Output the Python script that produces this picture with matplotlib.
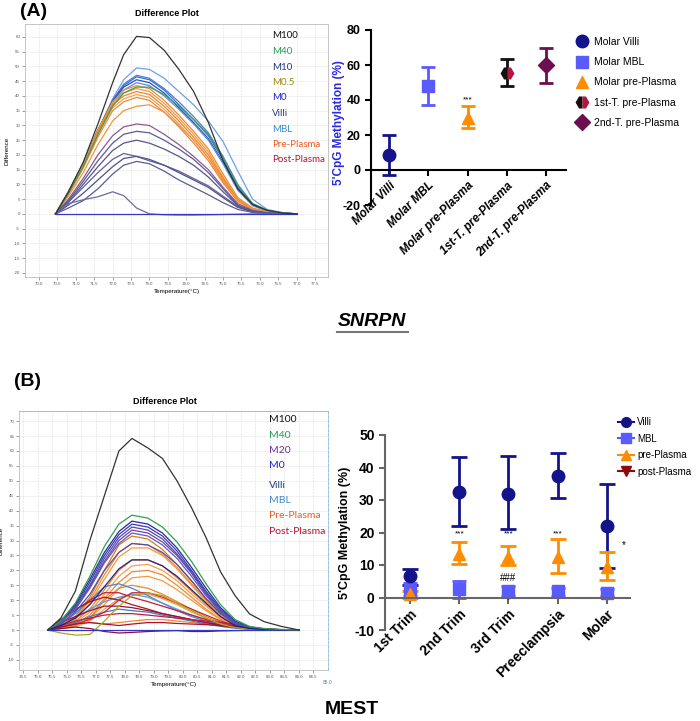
import numpy as np
import matplotlib
matplotlib.use('Agg')
import matplotlib.pyplot as plt
from matplotlib.lines import Line2D

plt.rcParams['font.family'] = ['Liberation Sans', 'DejaVu Sans']
plt.rcParams['axes.unicode_minus'] = False

# ---------------- data: panel A (SNRPN) ----------------
tempA = [70.45, 70.8, 71.2, 71.6, 72.0, 72.3, 72.65, 73.0, 73.4, 73.8, 74.2, 74.6,
         75.0, 75.4, 75.8, 76.2, 76.6, 77.0]
curvesA = [
    ('#6f9fe6', [0, 7, 16.5, 28, 39, 45.5, 49.5, 49, 46, 41.5, 37, 31.5, 24.5, 14.5, 5, 1.5, 0.5, 0]),
    ('#4d7fdc', [0, 7, 16.5, 28, 38.5, 44, 47, 46, 42.5, 38, 33, 27.5, 19.5, 10, 3.5, 1.2, 0.4, 0]),
    ('#3a6ad0', [0, 7.5, 17, 28.5, 38.5, 43.5, 46.5, 45.5, 42, 37, 32, 26.5, 18.5, 9, 3, 1, 0.3, 0]),
    ('#2b4fb8', [0, 7.5, 17, 28.5, 38, 43, 45.5, 44.5, 41, 36, 31, 25.5, 17.5, 8.5, 3, 1, 0.3, 0]),
    ('#5b8fe0', [0, 7, 16.5, 28, 37.5, 42, 44.5, 43.5, 40, 35.5, 30.5, 25, 17, 8, 2.8, 0.9, 0.3, 0]),
    ('#f08a30', [0, 7.5, 17, 28.5, 38, 42, 43.5, 42.5, 38.5, 33.5, 28, 22, 13.5, 5.5, 2, 0.7, 0.2, 0]),
    ('#f29a40', [0, 7, 16.5, 28, 37.5, 41, 42.5, 41.5, 37.5, 32.5, 27, 21, 12.5, 5, 1.8, 0.6, 0.2, 0]),
    ('#ee8428', [0, 7, 16.5, 27.5, 37, 40, 41.5, 40.5, 36.5, 31.5, 26, 20, 12, 4.8, 1.7, 0.6, 0.2, 0]),
    ('#f3a050', [0, 7, 16, 27, 36, 39, 40.5, 39.5, 35.5, 30.5, 25, 19, 11, 4.5, 1.6, 0.5, 0.2, 0]),
    ('#ec8a3a', [0, 6.5, 15.5, 26, 35, 38, 39.5, 38.5, 34.5, 29.5, 24, 18, 10.5, 4.2, 1.5, 0.5, 0.2, 0]),
    ('#f09440', [0, 6, 14, 23.5, 31.5, 35, 36.5, 37, 34.5, 30, 25, 19, 11.5, 4.5, 1.6, 0.5, 0.2, 0]),
    ('#3aa060', [0, 7, 16, 27, 36.5, 41, 43, 43, 40.5, 36.5, 32, 27, 19, 9.5, 3.5, 1.2, 0.4, 0]),
    ('#8a5a90', [0, 5, 12, 20, 26.5, 29.5, 30.5, 30, 27, 23.5, 19.5, 15, 9, 3.5, 1.2, 0.4, 0.1, 0]),
    ('#5a5a96', [0, 4.5, 11, 18, 24, 27, 28, 27.5, 25, 22, 18.5, 14, 8.5, 3, 1, 0.3, 0, 0]),
    ('#55558f', [0, 4, 10, 16, 21.5, 24, 25, 24, 22, 19.5, 16.5, 12.5, 7.5, 2.8, 0.9, 0.3, 0, 0]),
    ('#60609a', [0, 4, 9, 14, 18.5, 20.5, 19.5, 18, 16.5, 14.5, 12, 9.5, 6, 2.5, 0.8, 0.2, 0, 0]),
    ('#50508a', [0, 3, 7, 11.5, 16, 18.8, 19.5, 18.5, 16.5, 14, 11.5, 9, 5.5, 2.2, 0.7, 0.2, 0, 0]),
    ('#5c5c94', [0, 2, 4.5, 8.5, 13.5, 16.5, 17.8, 17, 14.5, 11.5, 9, 6.5, 3.8, 1.5, 0.5, 0.1, 0, 0]),
    ('#6a6aa0', [0, 3.5, 4.8, 5.8, 7.5, 6.2, 2, 0, -0.3, -0.4, -0.4, -0.3, -0.2, -0.1, 0, 0, 0, 0]),
    ('#3535c8', [0, 0, 0, 0, 0, 0, 0, 0, 0, 0, 0, 0, 0, 0, 0, 0, 0, 0]),
    ('#333333', [0, 7.5, 17.5, 30.5, 44.5, 54, 60.2, 59.8, 55.5, 49, 41.5, 31, 18, 8.5, 3.2, 1.2, 0.3, 0]),
]
legendA = ['M100', 'M40', 'M10', 'M0.5', 'M0', 'Villi', 'MBL', 'Pre-Plasma', 'Post-Plasma']
legendA_col = ['#111111', '#1fa050', '#1f3a78', '#9a8a10', '#2020e0', '#2a3a8a', '#3a8ad0',
               '#f05a20', '#c0102a']

catsA = ['Molar Villi', 'Molar MBL', 'Molar pre-Plasma', '1st-T. pre-Plasma', '2nd-T. pre-Plasma']
meanA = [8.5, 48, 30, 55.5, 60]
lowA = [-3, 37, 24, 48, 50]
highA = [20, 59, 36.5, 63.5, 70]

# ---------------- data: panel B (MEST) ----------------
tempB = [75.35, 75.8, 76.3, 76.8, 77.3, 77.8, 78.25, 78.8, 79.3, 79.8, 80.3, 80.8,
         81.3, 81.8, 82.3, 82.8, 83.4, 84.0]
curvesB = [
    ('#e07a20', [0, 1.5, 4.5, 11, 20, 28.5, 31.5, 30.5, 27, 22, 16.5, 10.5, 5.5, 2, 0.7, 0.2, 0, 0]),
    ('#f08a30', [0, 1.5, 4, 10, 18.5, 26, 29, 28.5, 25.5, 21, 15.5, 10, 5, 2, 0.6, 0.2, 0, 0]),
    ('#f29a40', [0, 1, 3.5, 9, 17, 24.5, 27.5, 27.5, 25, 20.5, 15, 9.5, 5, 1.8, 0.6, 0.2, 0, 0]),
    ('#ee8428', [0, 1, 3, 7, 13.5, 20, 23.5, 23.5, 21.5, 17.5, 13, 8.5, 4.5, 1.6, 0.5, 0.2, 0, 0]),
    ('#f3a050', [0, 1, 2.5, 6, 12, 18, 21.5, 22, 20, 16.5, 12, 8, 4, 1.5, 0.5, 0.2, 0, 0]),
    ('#f08a30', [0, 0.8, 2, 5, 10.5, 16, 19.5, 20, 18.5, 15, 11, 7, 3.5, 1.3, 0.5, 0.2, 0, 0]),
    ('#f29a40', [0, 0.5, 1.5, 4, 8.5, 14, 17.5, 18, 16.5, 13.5, 10, 6.5, 3.5, 1.2, 0.4, 0.1, 0, 0]),
    ('#ee8428', [0, 0.5, 1.5, 4, 10, 14, 15, 14, 12, 9.5, 7, 4.5, 2.5, 1, 0.3, 0.1, 0, 0]),
    ('#f3a050', [0, 0.5, 1, 3, 7, 10.5, 12, 12, 10.5, 8.5, 6, 4, 2, 0.8, 0.3, 0.1, 0, 0]),
    ('#f08a30', [0, 1.5, 2.5, 2.5, 2, 2.5, 3, 3.5, 3.5, 3, 2.5, 2, 1.5, 1, 0.5, 0.2, 0, 0]),
    ('#4a86d8', [0, 2, 5.5, 10, 14.5, 15.5, 14, 11.5, 9, 6.5, 4.5, 3, 1.8, 1, 0.5, 0.2, 0, 0]),
    ('#5a96e0', [0, 1.5, 4, 7, 9.5, 11, 12, 11, 9, 7, 5, 3.5, 2, 1, 0.5, 0.2, 0, 0]),
    ('#3a7ad0', [0, 1, 2.5, 4.5, 6, 7, 6.5, 6, 5, 4, 3, 2, 1.2, 0.6, 0.3, 0.1, 0, 0]),
    ('#c41e3a', [0, 3, 6.5, 10, 12.5, 12.5, 11, 9.5, 8, 6.5, 5, 3.5, 2.5, 1.5, 0.8, 0.3, 0.1, 0]),
    ('#b0102a', [0, 3.5, 7, 9.5, 11, 10, 8.5, 7, 5.5, 4.5, 3.5, 2.5, 1.5, 1, 0.5, 0.2, 0, 0]),
    ('#c8283a', [0, 1, 2, 3.5, 6, 10, 12.5, 12.5, 11, 9, 7, 5, 3, 1.5, 0.6, 0.2, 0, 0]),
    ('#a01030', [0, 2.5, 4.5, 6.5, 8, 8, 7.5, 6.5, 5.5, 4.5, 3.5, 2.5, 1.8, 1.2, 0.6, 0.2, 0, 0]),
    ('#c41e3a', [0, 1.5, 3, 4, 5, 5.5, 5.5, 5, 4.5, 4, 3.5, 3, 2.5, 1.8, 1, 0.4, 0.1, 0]),
    ('#b0102a', [0, 1, 2, 2.5, 2, 1.5, 2, 2.5, 2.5, 2.2, 2, 1.8, 1.5, 1, 0.5, 0.2, 0, 0]),
    ('#901030', [0, 0.5, 1, 0.5, -0.5, -1, -0.8, -0.5, -0.3, -0.2, -0.5, -0.5, -0.3, -0.2, -0.1, 0, 0, 0]),
    ('#a8a820', [0, -1, -1.7, -1.5, 3, 8, 11.5, 12.5, 11.5, 9, 6.5, 4, 2, 0.8, 0.3, 0.1, 0, 0]),
    ('#3535c8', [0, 0, 0, 0, 0, 0, 0, 0, 0, 0, 0, 0, 0, 0, 0, 0, 0, 0]),
    ('#7b3fa0', [0, 2.5, 7, 14.5, 23, 30, 33.5, 32.5, 29.5, 25, 19, 12, 6, 2, 0.7, 0.2, 0, 0]),
    ('#2a2a9a', [0, 3, 8.5, 17, 26, 33, 36.5, 35.5, 32.5, 27.5, 21, 14, 7.5, 3, 1, 0.4, 0.1, 0]),
    ('#3b3bb0', [0, 3, 8, 16, 25, 32, 35.5, 34.5, 31.5, 26.5, 20, 13, 7, 2.5, 0.8, 0.3, 0.1, 0]),
    ('#4a4ab8', [0, 2.5, 7.5, 15, 24, 31, 34.5, 33.5, 30.5, 25.5, 19.5, 12.5, 6.5, 2.5, 0.8, 0.3, 0, 0]),
    ('#5a5ac0', [0, 2.5, 7, 14, 22.5, 29, 32.5, 31.5, 28.5, 24, 18, 11.5, 6, 2, 0.7, 0.2, 0, 0]),
    ('#5050a0', [0, 2, 6, 12, 20, 26, 29, 28.5, 26, 22, 16.5, 10.5, 5.5, 2, 0.6, 0.2, 0, 0]),
    ('#23237a', [0, 1.5, 4, 8.5, 14.5, 20.5, 23.5, 23.5, 21.5, 18, 13.5, 9, 4.5, 1.5, 0.5, 0.2, 0, 0]),
    ('#30a050', [0, 3, 9, 18, 28, 35.5, 38.5, 37.5, 34.5, 29.5, 23, 15.5, 8.5, 3.5, 1.2, 0.5, 0.2, 0]),
    ('#333333', [0, 4, 13, 30, 45, 60, 64.2, 61, 57.5, 50, 41, 31, 19.5, 11.5, 5.4, 2.8, 1.2, 0]),
]
legendB = ['M100', 'M40', 'M20', 'M0', 'Villi', 'MBL', 'Pre-Plasma', 'Post-Plasma']
legendB_col = ['#111111', '#1fa050', '#7030a0', '#2020e0', '#1f3a8a', '#3a8ad0', '#f05a20', '#c0102a']

catsB = ['1st Trim', '2nd Trim', '3rd Trim', 'Preeclampsia', 'Molar']
villi_mean = [6.5, 32.5, 32.0, 37.5, 22.0]
villi_lo = [4.0, 22.0, 21.0, 30.5, 9.0]
villi_hi = [8.8, 43.2, 43.5, 44.5, 35.0]
mbl_mean = [2.5, 2.5, 2.0, 2.0, 1.5]
mbl_lo = [0.5, 0.0, 0.5, 0.5, 0.5]
mbl_hi = [4.5, 5.0, 3.5, 3.0, 2.5]
pre_mean = [1.0, 13.5, 12.5, 12.5, 9.5]
pre_lo = [0.0, 10.3, 10.0, 7.6, 5.5]
pre_hi = [2.0, 17.2, 15.7, 18.0, 14.0]
post_cat = [2]
post_mean = [1.5]

W, H = 700, 721
fig = plt.figure(figsize=(W / 100, H / 100), dpi=100)


def box(x0, y0, x1, y1):
    return [x0 / W, 1 - y1 / H, (x1 - x0) / W, (y1 - y0) / H]


def ftext(x, y, s, **kw):
    fig.text(x / W, 1 - y / H, s, **kw)


def melt_axes(ax, curves, temps, xlim, ylim, xticks, yticks):
    for col, vals in curves:
        ax.plot(temps, vals, color=col, lw=0.9)
    ax.set_xlim(*xlim)
    ax.set_ylim(*ylim)
    ax.set_xticks(xticks)
    ax.set_yticks(yticks)
    ax.set_xticklabels(['%.1f' % t for t in xticks])
    ax.set_yticklabels(['%d' % v for v in yticks])
    ax.tick_params(labelsize=3.2, colors='#555555', length=2, width=0.4, pad=1.5)
    ax.grid(True, color='#dddddd', ls='--', lw=0.4)
    for s in ax.spines.values():
        s.set_color('#bbbbbb')
        s.set_linewidth(0.6)
    ax.set_xlabel('Temperature(°C)', fontsize=4.5, labelpad=2)
    ax.set_ylabel('Difference', fontsize=4.5, labelpad=2)


def dot_axes(ax):
    # x axis drawn through zero; must be set before the tick labels
    ax.spines['bottom'].set_position(('data', 0))
    ax.spines['top'].set_visible(False)
    ax.spines['right'].set_visible(False)
    for s in ('left', 'bottom'):
        ax.spines[s].set_linewidth(1.5)


# ---------------- panel A: difference plot ----------------
axA = fig.add_axes(box(25, 24, 328, 277))
melt_axes(axA, curvesA, tempA, (69.62, 77.85), (-21.4, 64.4),
          np.arange(70.0, 77.51, 0.5), np.arange(-20, 61, 5))
axA.yaxis.set_label_coords(-0.05, 0.5)
for i, (lab, col) in enumerate(zip(legendA, legendA_col)):
    ftext(272, 36 + i * 15.5, lab, color=col, fontsize=7, family='Lato', va='center')

# ---------------- panel A: methylation ----------------
axA2 = fig.add_axes(box(371, 30, 566, 205))
dot_axes(axA2)
xA = np.arange(len(catsA))
colsA = ['#14148a', '#5a5aff', '#ff8c00', '#111111', '#6b0f50']
for i in range(len(catsA)):
    axA2.errorbar(xA[i], meanA[i], yerr=[[meanA[i] - lowA[i]], [highA[i] - meanA[i]]],
                  fmt='none', ecolor=colsA[i], elinewidth=2, capsize=5, capthick=2)
axA2.plot(xA[0], meanA[0], 'o', color='#14148a', ms=9)
axA2.plot(xA[1], meanA[1], 's', color='#5a5aff', ms=9)
axA2.plot(xA[2], meanA[2], '^', color='#ff8c00', ms=9)
axA2.plot(xA[3], meanA[3], 'H', ms=10, fillstyle='left', mfc='#111111', mfcalt='#b3163f', mec='none')
axA2.plot(xA[4], meanA[4], 'D', color='#6b0f50', ms=8)
axA2.text(xA[2], 38, '***', ha='center', va='bottom', fontsize=6)
axA2.set_xlim(-0.46, 4.5)
axA2.set_ylim(-20, 80)
axA2.set_yticks([-20, 0, 20, 40, 60, 80])
axA2.set_xticks(xA)
axA2.tick_params(axis='y', labelsize=9, width=1.5, length=4)
axA2.tick_params(axis='x', width=1.5, length=4, pad=3)
axA2.set_xticklabels(catsA, rotation=45, ha='right', va='top', rotation_mode='anchor',
                     fontsize=8.5, fontweight='bold', style='italic')
for lab in axA2.get_yticklabels():
    lab.set_fontweight('bold')
axA2.set_ylabel("5'CpG Methylation (%)", color='#2a2ae0', fontweight='bold', fontsize=8.5)
axA2.yaxis.set_label_coords(-0.135, 0.47)

handlesA = [
    Line2D([], [], ls='none', marker='o', color='#14148a', ms=9),
    Line2D([], [], ls='none', marker='s', color='#5a5aff', ms=9),
    Line2D([], [], ls='none', marker='^', color='#ff8c00', ms=9),
    Line2D([], [], ls='none', marker='H', ms=10, fillstyle='left', mfc='#111111',
           mfcalt='#b3163f', mec='none'),
    Line2D([], [], ls='none', marker='D', color='#6b0f50', ms=8),
]
fig.legend(handlesA, catsA, loc='upper left', bbox_to_anchor=(576 / W, 1 - 37 / H),
           frameon=False, fontsize=7.5, handlelength=1.2, handletextpad=0.5,
           labelspacing=0.98, borderpad=0, borderaxespad=0)

# ---------------- panel B: difference plot ----------------
axB = fig.add_axes(box(19, 411, 328, 670))
melt_axes(axB, curvesB, tempB, (74.36, 85.0), (-13.4, 73.4),
          np.arange(74.5, 84.51, 0.5), np.arange(-10, 71, 5))
axB.yaxis.set_label_coords(-0.05, 0.5)
axB.spines['right'].set_color('#8ab4dc')
axB.spines['right'].set_linestyle('--')
axB.spines['top'].set_color('#8ab4dc')
ftext(328, 682, '85.0', color='#4a86d8', fontsize=3.5, ha='center', va='center')
for i, (lab, col) in enumerate(zip(legendB, legendB_col)):
    ftext(269, 420 + i * 15.3 + (4 if i >= 4 else 0), lab, color=col, fontsize=7.5,
          family='Lato', va='center')

# ---------------- panel B: methylation ----------------
axB2 = fig.add_axes(box(385, 435, 630, 630))
dot_axes(axB2)
xB = np.arange(len(catsB))


def yerr(m, lo, hi):
    return [np.array(m) - np.array(lo), np.array(hi) - np.array(m)]


axB2.errorbar(xB, mbl_mean, yerr=yerr(mbl_mean, mbl_lo, mbl_hi), fmt='s', color='#5a5aff',
              ms=9, elinewidth=2, capsize=5, capthick=2)
axB2.errorbar(xB, villi_mean, yerr=yerr(villi_mean, villi_lo, villi_hi), fmt='o',
              color='#14148a', ms=9, elinewidth=2, capsize=6, capthick=2)
axB2.errorbar(xB, pre_mean, yerr=yerr(pre_mean, pre_lo, pre_hi), fmt='^', color='#ff8c00',
              ms=9, elinewidth=2, capsize=6, capthick=2)
axB2.plot(xB[post_cat], post_mean, 'v', color='#8b0a0a', ms=9)
for i in (1, 2, 3):
    axB2.text(xB[i], 18.5, '***', ha='center', va='bottom', fontsize=6)
axB2.text(xB[2], 4.5, '###', ha='center', va='bottom', fontsize=7)
axB2.text(xB[4] + 0.35, 14.5, '*', ha='center', va='bottom', fontsize=7)
axB2.set_xlim(-0.51, 4.47)
axB2.set_ylim(-10, 50)
axB2.set_yticks([-10, 0, 10, 20, 30, 40, 50])
axB2.set_xticks(xB)
axB2.tick_params(axis='y', labelsize=10, width=1.5, length=4, color='#666666')
axB2.tick_params(axis='x', width=1.5, length=4, pad=3, color='#666666')
axB2.set_xticklabels(catsB, rotation=45, ha='right', va='top', rotation_mode='anchor',
                     fontsize=10, fontweight='bold')
for lab in axB2.get_yticklabels():
    lab.set_fontweight('bold')
for s in ('left', 'bottom'):
    axB2.spines[s].set_color('#666666')
axB2.set_ylabel("5'CpG Methylation (%)", fontweight='bold', fontsize=9)
axB2.yaxis.set_label_coords(-0.14, 0.5)

handlesB = [
    Line2D([], [], marker='o', color='#14148a', ms=7, lw=1.5),
    Line2D([], [], marker='s', color='#5a5aff', ms=7, lw=1.5),
    Line2D([], [], marker='^', color='#ff8c00', ms=7, lw=1.5),
    Line2D([], [], marker='v', color='#8b0a0a', ms=7, lw=1.5),
]
fig.legend(handlesB, ['Villi', 'MBL', 'pre-Plasma', 'post-Plasma'], loc='upper left',
           bbox_to_anchor=(618 / W, 1 - 417 / H), frameon=False, fontsize=7,
           handlelength=1.6, handletextpad=0.4, labelspacing=0.68, borderpad=0,
           borderaxespad=0)

# ---------------- titles ----------------
ftext(20, 12, '(A)', fontsize=14, fontweight='bold', va='center')
ftext(14, 381, '(B)', fontsize=14, fontweight='bold', va='center')
ftext(167, 14, 'Difference Plot', fontsize=6.5, fontweight='bold', ha='center', va='center',
      family=['Liberation Sans Narrow', 'Liberation Sans'])
ftext(165, 401, 'Difference Plot', fontsize=6.5, fontweight='bold', ha='center', va='center',
      family=['Liberation Sans Narrow', 'Liberation Sans'])
ftext(372, 322, 'SNRPN', fontsize=14, fontweight='bold', style='italic', ha='center', va='center')
fig.add_artist(Line2D([337 / W, 408 / W], [1 - 332 / H, 1 - 332 / H], color='#777777', lw=1.5))
ftext(352, 710, 'MEST', fontsize=14, fontweight='bold', ha='center', va='center')

fig.savefig('out.png', dpi=100)
